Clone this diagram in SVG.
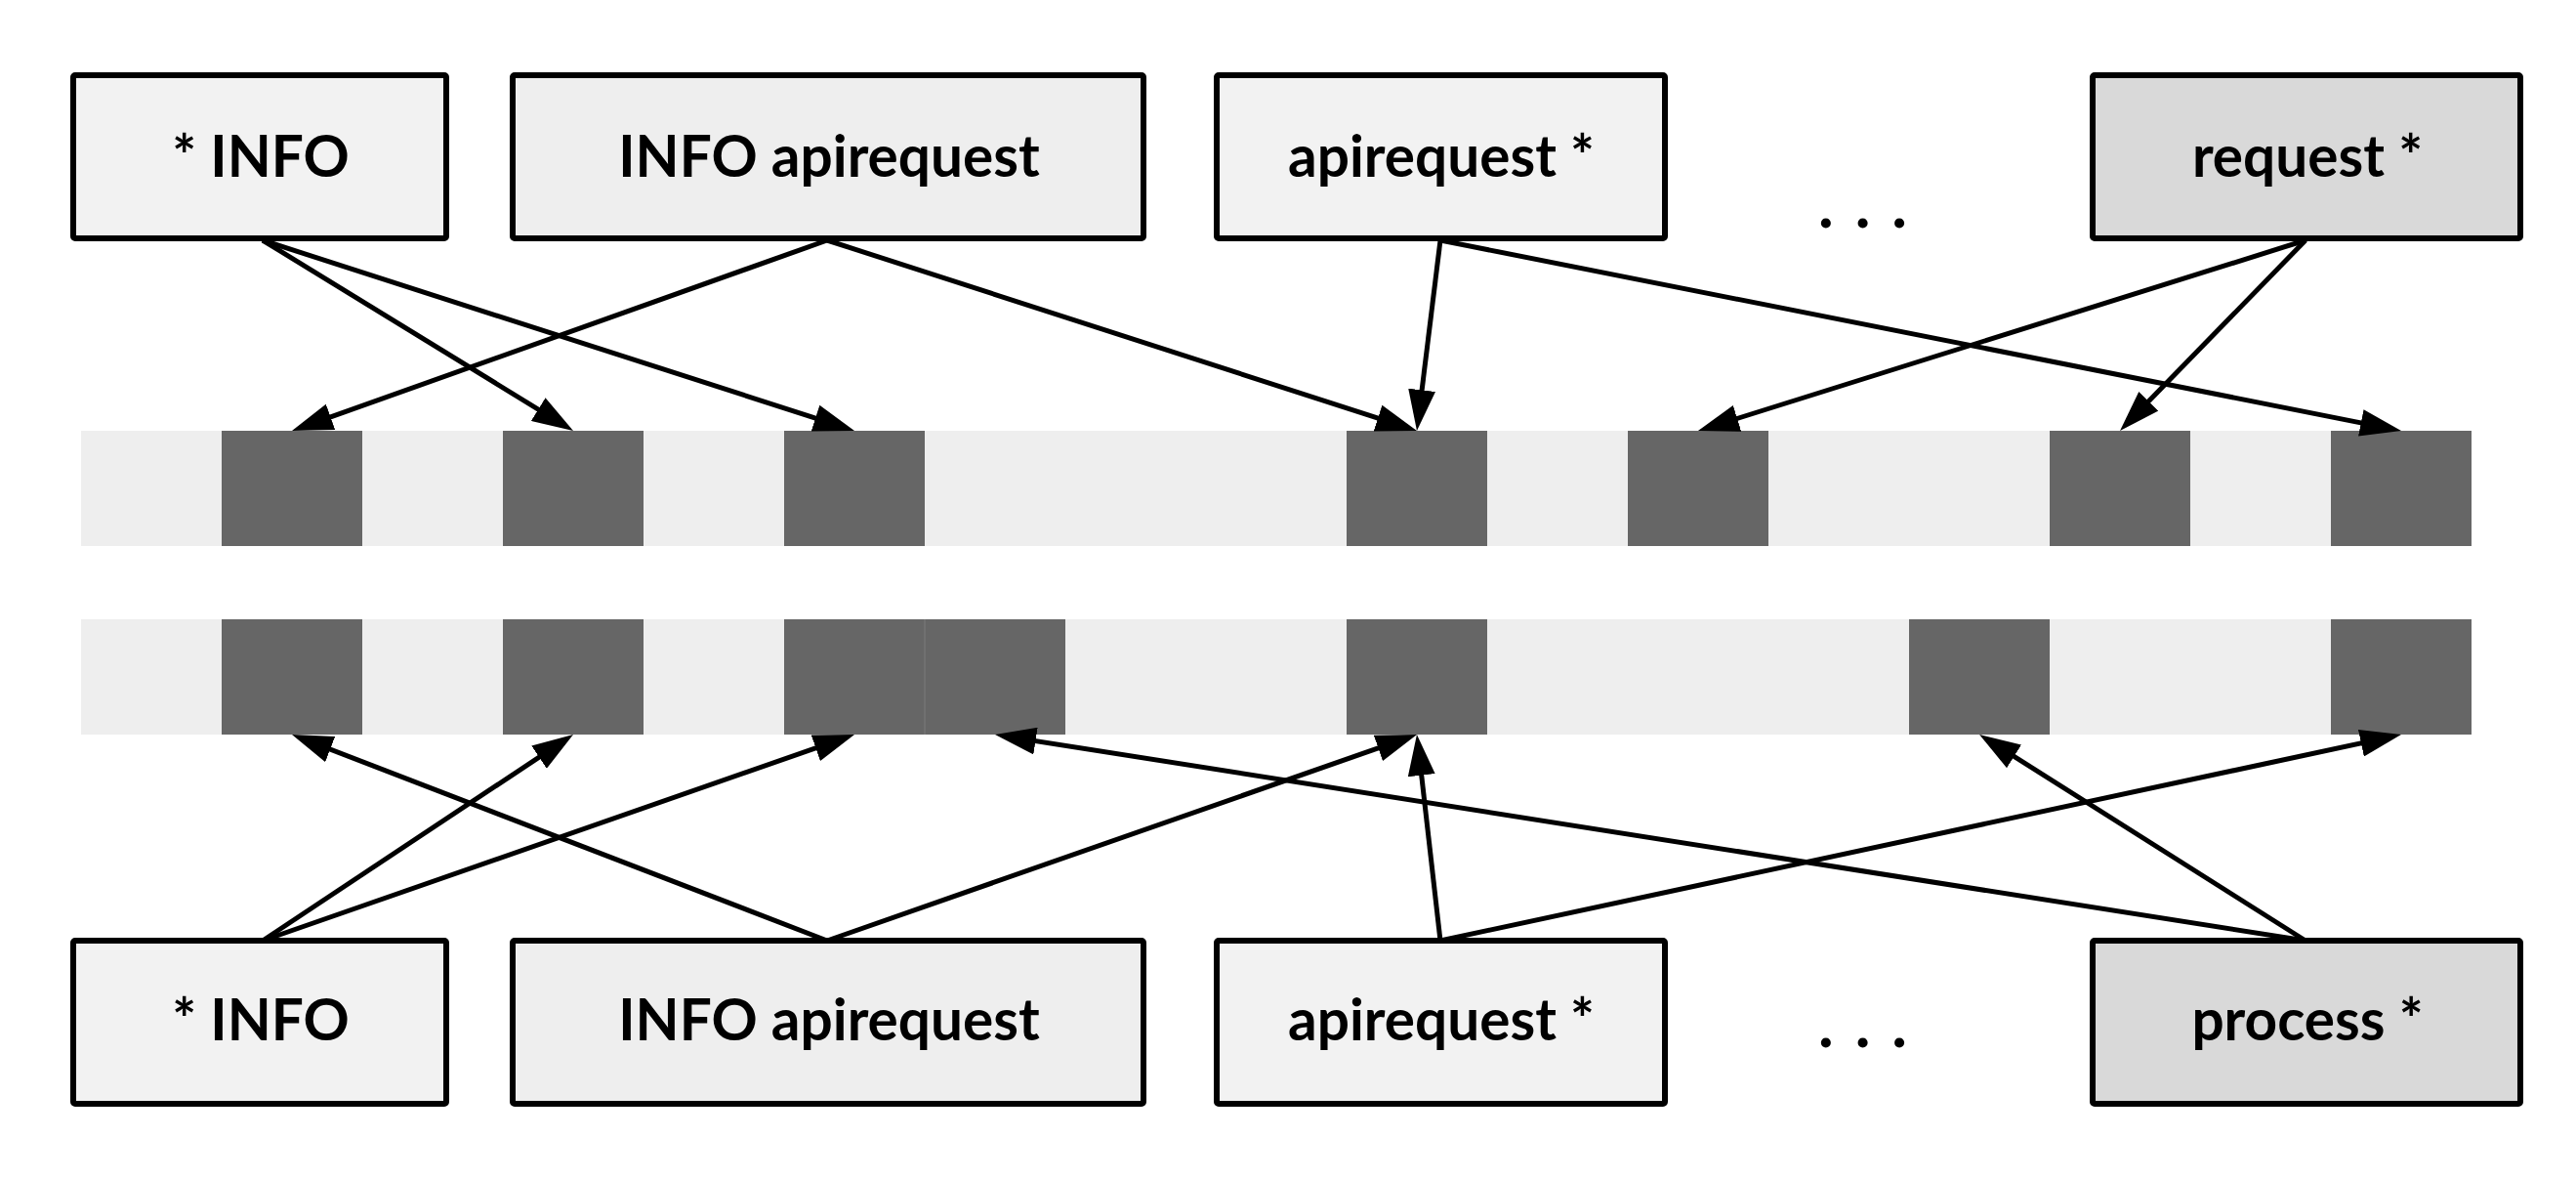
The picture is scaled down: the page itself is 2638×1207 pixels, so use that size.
<svg xmlns="http://www.w3.org/2000/svg" width="2638" height="1207" viewBox="0 0 2638 1207">
<style>
.box{stroke:#000;stroke-width:6}
.l1{fill:#f2f2f2}.l2{fill:#eeeeee}.l3{fill:#d9d9d9}
.lbl{font-family:Lato,"Liberation Sans",sans-serif;font-weight:bold;font-size:58.5px;fill:#000;text-anchor:middle}
.dots{font-family:Lato,"Liberation Sans",sans-serif;font-weight:bold;font-size:66px;fill:#000;letter-spacing:22px}
.cell{fill:#eeeeee}.hit{fill:#666666}
.seam{stroke:#7a7a7a;stroke-width:1}
.conn line{stroke:#000;stroke-width:5;marker-end:url(#ah)}
</style>
<defs>
<marker id="ah" markerUnits="userSpaceOnUse" markerWidth="42" markerHeight="28" refX="32" refY="14" orient="auto">
<path d="M0,0 L42,14 L0,28 z" fill="#000"/>
</marker>
</defs>
<rect width="2638" height="1207" fill="#fff"/>
<g id="strip-top">
<rect class="cell" x="83" y="441" width="2448" height="118"/>
<rect class="hit" x="227" y="441" width="144" height="118"/>
<rect class="hit" x="515" y="441" width="144" height="118"/>
<rect class="hit" x="803" y="441" width="144" height="118"/>
<rect class="hit" x="1379" y="441" width="144" height="118"/>
<rect class="hit" x="1667" y="441" width="144" height="118"/>
<rect class="hit" x="2099" y="441" width="144" height="118"/>
<rect class="hit" x="2387" y="441" width="144" height="118"/>
</g>
<g id="strip-bottom">
<rect class="cell" x="83" y="634" width="2448" height="118"/>
<rect class="hit" x="227" y="634" width="144" height="118"/>
<rect class="hit" x="515" y="634" width="144" height="118"/>
<rect class="hit" x="803" y="634" width="144" height="118"/>
<rect class="hit" x="947" y="634" width="144" height="118"/>
<line class="seam" x1="947" y1="634" x2="947" y2="752"/>
<rect class="hit" x="1379" y="634" width="144" height="118"/>
<rect class="hit" x="1955" y="634" width="144" height="118"/>
<rect class="hit" x="2387" y="634" width="144" height="118"/>
</g>
<g id="t-star-info"><rect class="box l1" x="75" y="77" width="382" height="167" rx="2"/><text class="lbl" x="267" y="181">* INFO</text></g>
<g id="t-info-apirequest"><rect class="box l2" x="525" y="77" width="646" height="167" rx="2"/><text class="lbl" x="849" y="181">INFO apirequest</text></g>
<g id="t-apirequest-star"><rect class="box l1" x="1246" y="77" width="459" height="167" rx="2"/><text class="lbl" x="1476" y="181">apirequest *</text></g>
<g id="t-dots"><text class="dots" x="1862" y="233">...</text></g>
<g id="t-request-star"><rect class="box l3" x="2143" y="77" width="438" height="167" rx="2"/><text class="lbl" x="2363" y="181">request *</text></g>
<g id="b-star-info"><rect class="box l1" x="75" y="963" width="382" height="167" rx="2"/><text class="lbl" x="267" y="1065">* INFO</text></g>
<g id="b-info-apirequest"><rect class="box l2" x="525" y="963" width="646" height="167" rx="2"/><text class="lbl" x="849" y="1065">INFO apirequest</text></g>
<g id="b-apirequest-star"><rect class="box l1" x="1246" y="963" width="459" height="167" rx="2"/><text class="lbl" x="1476" y="1065">apirequest *</text></g>
<g id="b-dots"><text class="dots" x="1862" y="1072">...</text></g>
<g id="b-process-star"><rect class="box l3" x="2143" y="963" width="438" height="167" rx="2"/><text class="lbl" x="2363" y="1065">process *</text></g>
<g id="connectors" class="conn">
<line x1="269" y1="246" x2="578.5" y2="435.8"/>
<line x1="269" y1="246" x2="865.5" y2="437.9"/>
<line x1="847" y1="246" x2="308.4" y2="437.6"/>
<line x1="847" y1="246" x2="1441.5" y2="437.9"/>
<line x1="1475" y1="246" x2="1452.2" y2="431.1"/>
<line x1="1475" y1="246" x2="2449.2" y2="439.1"/>
<line x1="2361" y1="246" x2="1748.5" y2="438"/>
<line x1="2361" y1="246" x2="2178" y2="433.8"/>
<line x1="269" y1="963" x2="578.7" y2="757.5"/>
<line x1="269" y1="963" x2="865.6" y2="755.3"/>
<line x1="847" y1="963" x2="308.3" y2="755.6"/>
<line x1="847" y1="963" x2="1441.6" y2="755.3"/>
<line x1="1475" y1="963" x2="1452.1" y2="761.9"/>
<line x1="1475" y1="963" x2="2449.2" y2="754.1"/>
<line x1="2361" y1="963" x2="1028.9" y2="753.6"/>
<line x1="2361" y1="963" x2="2035.5" y2="757.3"/>
</g>
</svg>
